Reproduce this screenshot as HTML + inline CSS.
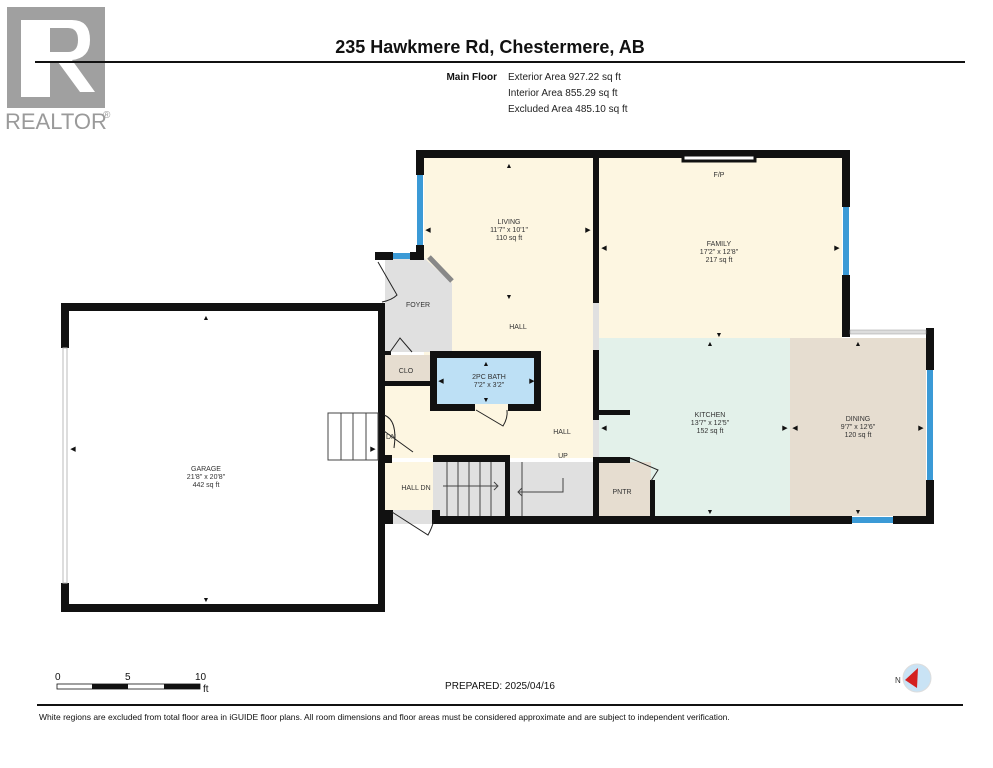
<!DOCTYPE html>
<html><head><meta charset="utf-8"><style>
html,body{margin:0;padding:0;background:#fff;}
svg{display:block;}
text{font-family:"Liberation Sans",sans-serif;}
</style></head><body>
<svg width="993" height="768" viewBox="0 0 993 768" xmlns="http://www.w3.org/2000/svg">
<rect width="993" height="768" fill="#fff"/>
<!-- Realtor logo -->
<rect x="7" y="7" width="98" height="101" fill="#a0a0a0"/>
<path d="M21 20 H72 Q90 20 90 40 Q90 58 72 60 L95 92 H80 L58 62 H50 V97 H21 Z" fill="#fff"/>
<path d="M50 28 H68 Q78 28 78 40 Q78 52 68 52 H50 Z" fill="#a0a0a0"/>
<text x="5" y="129" font-size="22" fill="#9a9a9a">REALTOR</text>
<text x="103" y="118" font-size="10" fill="#9a9a9a">®</text>
<!-- header -->
<text x="490" y="53" font-size="18" font-weight="bold" text-anchor="middle" fill="#111">235 Hawkmere Rd, Chestermere, AB</text>
<rect x="35" y="61" width="930" height="2" fill="#111"/>
<text x="497" y="80" font-size="10" font-weight="bold" text-anchor="end" fill="#111">Main Floor</text>
<text x="508" y="80" font-size="10" fill="#222">Exterior Area 927.22 sq ft</text>
<text x="508" y="96" font-size="10" fill="#222">Interior Area 855.29 sq ft</text>
<text x="508" y="112" font-size="10" fill="#222">Excluded Area 485.10 sq ft</text>

<!-- floors -->
<rect x="424" y="158" width="170" height="300" fill="#fdf6e1"/>
<rect x="385" y="383" width="209" height="75" fill="#fdf6e1"/>
<rect x="599" y="158" width="243" height="180" fill="#fdf6e1"/>
<rect x="599" y="338" width="191" height="178" fill="#e3f1ea"/>
<rect x="790" y="338" width="136" height="178" fill="#e6ddd0"/>
<rect x="593" y="303" width="6" height="47" fill="#e0e0e0"/>
<rect x="593" y="420" width="6" height="37" fill="#e0e0e0"/>
<path d="M385 258 H424 L452 283 V352 H385 Z" fill="#e0e0e0"/>
<rect x="385" y="355" width="45" height="28" fill="#e6ddd0"/>
<rect x="437" y="358" width="98" height="46" fill="#bde0f5"/>
<rect x="433" y="462" width="160" height="54" fill="#e0e0e0"/>
<rect x="385" y="462" width="48" height="48" fill="#fdf6e1"/>
<rect x="597" y="462" width="54" height="54" fill="#e6ddd0"/>
<rect x="393" y="510" width="40" height="14" fill="#e0e0e0"/>

<!-- walls -->
<g fill="#111">
<rect x="61" y="303" width="324" height="8"/>
<rect x="61" y="604" width="324" height="8"/>
<rect x="61" y="303" width="8" height="45"/>
<rect x="61" y="583" width="8" height="29"/>
<rect x="378" y="303" width="7" height="309"/>
<rect x="416" y="150" width="434" height="8"/>
<rect x="416" y="150" width="8" height="25"/>
<rect x="416" y="245" width="8" height="13"/>
<rect x="375" y="252" width="18" height="8"/>
<rect x="410" y="252" width="14" height="8"/>
<rect x="842" y="150" width="8" height="57"/>
<rect x="842" y="275" width="8" height="62"/>
<rect x="926" y="328" width="8" height="42"/>
<rect x="926" y="480" width="8" height="44"/>
<rect x="436" y="516" width="416" height="8"/>
<rect x="893" y="516" width="41" height="8"/>
<rect x="593" y="158" width="6" height="145"/>
<rect x="593" y="350" width="6" height="70"/>
<rect x="599" y="410" width="31" height="5"/>
<rect x="593" y="457" width="37" height="6"/>
<rect x="650" y="480" width="5" height="40"/>
<rect x="593" y="457" width="6" height="60"/>
<rect x="430" y="351" width="111" height="7"/>
<rect x="430" y="351" width="7" height="60"/>
<rect x="534" y="351" width="7" height="60"/>
<rect x="430" y="404" width="45" height="7"/>
<rect x="508" y="404" width="33" height="7"/>
<rect x="385" y="351" width="6" height="4"/>
<rect x="385" y="381" width="48" height="5"/>
<rect x="433" y="455" width="77" height="7"/>
<rect x="505" y="455" width="5" height="61"/>
<rect x="378" y="455" width="14" height="8"/>
<rect x="432" y="510" width="8" height="14"/>
<rect x="378" y="510" width="15" height="14"/>
</g>
<!-- windows -->
<g fill="#3b9ad6">
<rect x="417" y="175" width="6" height="70"/>
<rect x="393" y="253" width="17" height="6"/>
<rect x="843" y="207" width="6" height="68"/>
<rect x="927" y="370" width="6" height="110"/>
<rect x="852" y="517" width="41" height="6"/>
</g>
<rect x="63" y="348" width="4" height="235" fill="#fff" stroke="#bbb"/>
<rect x="850" y="330" width="76" height="4" fill="#ddd" stroke="#999" stroke-width="0.5"/>
<rect x="683" y="155" width="72" height="6" fill="#fff" stroke="#111" stroke-width="3"/>
<line x1="429" y1="257" x2="452" y2="281" stroke="#888" stroke-width="5"/>
<!-- doors -->
<g stroke="#222" stroke-width="1" fill="none">
<path d="M378 262 L397 295 Q392 300 382 302"/>
<path d="M390 352 L400 338 L412 352"/>
<path d="M476 410 L503 426 Q508 418 507 410"/>
<path d="M384 431 L413 452 M384 415 Q398 420 394 448"/>
<path d="M392 512 L428 535 Q432 528 434 520"/>
<path d="M630 458 L658 470 L651 481"/>
</g>
<!-- stairs -->
<g stroke="#444" stroke-width="1" fill="#fff">
<rect x="328" y="413" width="50" height="47"/>
<line x1="341" y1="413" x2="341" y2="460"/>
<line x1="353" y1="413" x2="353" y2="460"/>
<line x1="366" y1="413" x2="366" y2="460"/>
</g>
<g stroke="#444" stroke-width="1" fill="none">
<line x1="447" y1="462" x2="447" y2="516"/>
<line x1="458" y1="462" x2="458" y2="516"/>
<line x1="469" y1="462" x2="469" y2="516"/>
<line x1="480" y1="462" x2="480" y2="516"/>
<line x1="491" y1="462" x2="491" y2="516"/>
<line x1="522" y1="462" x2="522" y2="516"/>
<path d="M443 486 H498 M494 482 L498 486 L494 490"/>
<path d="M563 478 V492 H518 M522 488 L518 492 L522 496"/>
</g>
<!-- labels -->
<g font-size="7" fill="#333" text-anchor="middle">
<text x="509" y="224">LIVING</text><text x="509" y="232">11'7" x 10'1"</text><text x="509" y="240">110 sq ft</text>
<text x="719" y="246">FAMILY</text><text x="719" y="254">17'2" x 12'8"</text><text x="719" y="262">217 sq ft</text>
<text x="719" y="177">F/P</text>
<text x="710" y="417">KITCHEN</text><text x="710" y="425">13'7" x 12'5"</text><text x="710" y="433">152 sq ft</text>
<text x="858" y="421">DINING</text><text x="858" y="429">9'7" x 12'6"</text><text x="858" y="437">120 sq ft</text>
<text x="489" y="379">2PC BATH</text><text x="489" y="387">7'2" x 3'2"</text>
<text x="418" y="307">FOYER</text>
<text x="518" y="329">HALL</text>
<text x="562" y="434">HALL</text>
<text x="563" y="458">UP</text>
<text x="406" y="373">CLO</text>
<text x="416" y="490">HALL DN</text>
<text x="622" y="494">PNTR</text>
<text x="391" y="439">DN</text>
<text x="206" y="471">GARAGE</text><text x="206" y="479">21'8" x 20'8"</text><text x="206" y="487">442 sq ft</text>
</g>
<!-- arrows -->
<g fill="#111" font-size="7" text-anchor="middle">
<text x="509" y="168">▲</text><text x="509" y="299">▼</text>
<text x="428" y="232">◀</text><text x="588" y="232">▶</text>
<text x="604" y="250">◀</text><text x="837" y="250">▶</text>
<text x="719" y="337">▼</text><text x="710" y="346">▲</text><text x="710" y="514">▼</text>
<text x="604" y="430">◀</text><text x="785" y="430">▶</text><text x="795" y="430">◀</text><text x="921" y="430">▶</text>
<text x="858" y="346">▲</text><text x="858" y="514">▼</text>
<text x="441" y="383">◀</text><text x="532" y="383">▶</text><text x="486" y="366">▲</text><text x="486" y="402">▼</text>
<text x="206" y="320">▲</text><text x="206" y="602">▼</text><text x="73" y="451">◀</text><text x="373" y="451">▶</text>
</g>
<!-- scale -->
<g font-size="10" fill="#111">
<text x="55" y="680">0</text><text x="125" y="680">5</text><text x="195" y="680">10</text><text x="203" y="692">ft</text>
</g>
<rect x="57" y="684" width="143" height="5" fill="#fff" stroke="#111" stroke-width="0.8"/>
<rect x="92" y="684" width="36" height="5" fill="#111"/>
<rect x="164" y="684" width="36" height="5" fill="#111"/>
<text x="500" y="689" font-size="10" fill="#111" text-anchor="middle">PREPARED: 2025/04/16</text>
<circle cx="917" cy="678" r="14" fill="#c9e3f5" stroke="#ddd"/>
<path d="M905 680 L918 668 L917 688 Z" fill="#d42020"/>
<text x="895" y="683" font-size="8" fill="#333">N</text>
<rect x="37" y="704" width="926" height="2" fill="#111"/>
<text x="39" y="720" font-size="8.5" fill="#111">White regions are excluded from total floor area in iGUIDE floor plans. All room dimensions and floor areas must be considered approximate and are subject to independent verification.</text>
</svg>
</body></html>
